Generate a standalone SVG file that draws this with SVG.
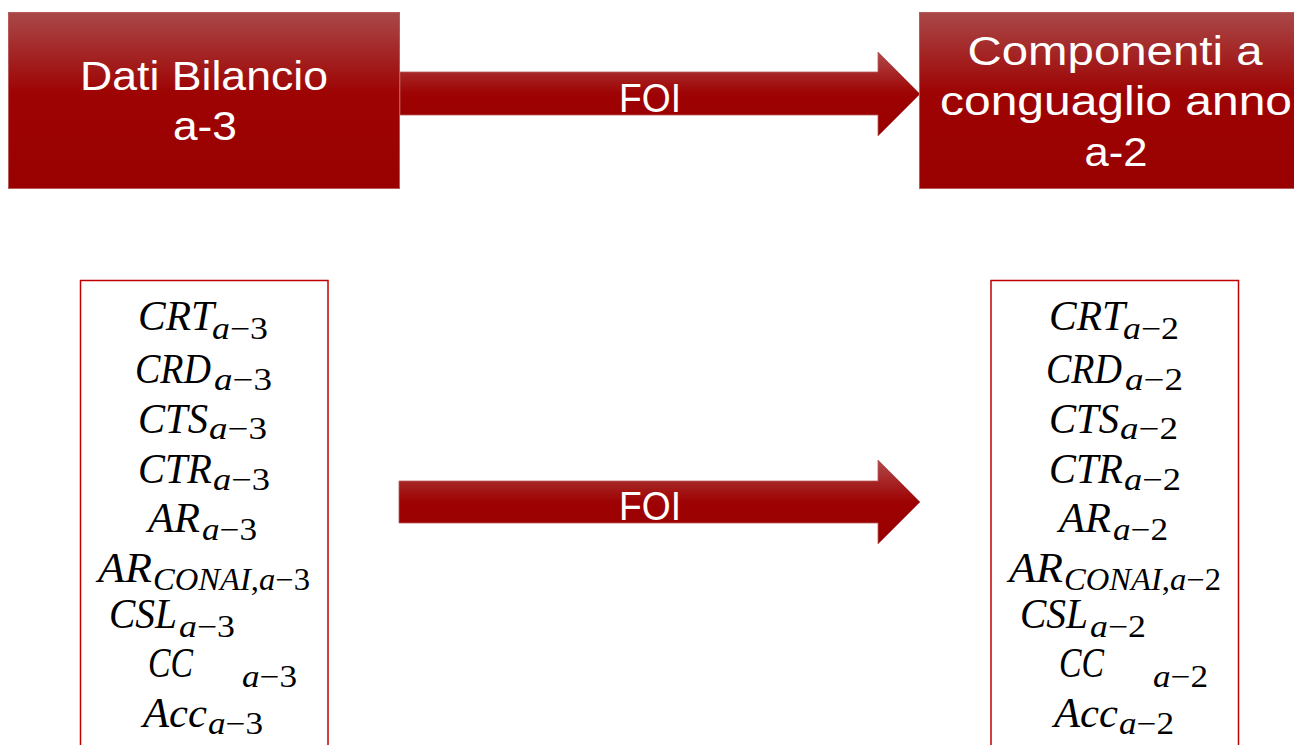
<svg xmlns="http://www.w3.org/2000/svg" width="1294" height="745" viewBox="0 0 1294 745">
  <defs>
    <linearGradient id="redFill" x1="0" y1="0" x2="0" y2="1">
      <stop offset="0" stop-color="#aa4848"/>
      <stop offset="0.45" stop-color="#9e0404"/>
      <stop offset="1" stop-color="#990000"/>
    </linearGradient>
    <linearGradient id="arrowFill" x1="0" y1="0" x2="0" y2="1">
      <stop offset="0" stop-color="#b04a4a"/>
      <stop offset="0.5" stop-color="#9e0202"/>
      <stop offset="1" stop-color="#990000"/>
    </linearGradient>
    <style>
      .head { fill: url(#redFill); stroke: #b85a5a; stroke-width: 1; }
      .arrow { fill: url(#arrowFill); stroke: #b85a5a; stroke-width: 0.8; }
      .title { font-family: "Liberation Sans", Arial, sans-serif; font-size: 41px; fill: #ffffff; text-anchor: middle; }
      .list { fill: #ffffff; stroke: #c00000; stroke-width: 1.5; }
      .m { font-family: "Liberation Serif", "Times New Roman", serif; font-size: 43px; font-style: italic; fill: #000000; }
      .s { font-family: "Liberation Serif", "Times New Roman", serif; font-size: 31px; fill: #000000; }
      .i { font-style: italic; }
    </style>
  </defs>

  <rect width="1294" height="745" fill="#ffffff"/>

  <!-- connectors -->
  <g id="connectors">
    <g id="foi-top">
      <polygon class="arrow" points="400,72 878,72 878,52 920,94 878,136 878,115 400,115"/>
      <text class="title" x="650" y="112" textLength="62" lengthAdjust="spacingAndGlyphs">FOI</text>
    </g>
    <g id="foi-bottom">
      <polygon class="arrow" points="399,481 878,481 878,460 920,502 878,544 878,523 399,523"/>
      <text class="title" x="650" y="520" textLength="62" lengthAdjust="spacingAndGlyphs">FOI</text>
    </g>
  </g>

  <!-- source header -->
  <g id="dati-bilancio">
    <rect class="head" x="8.5" y="12.5" width="391" height="176"/>
    <text class="title" x="204" y="90" textLength="248" lengthAdjust="spacingAndGlyphs">Dati Bilancio</text>
    <text class="title" x="205" y="140" textLength="64" lengthAdjust="spacingAndGlyphs">a-3</text>
  </g>

  <!-- target header -->
  <g id="componenti-conguaglio">
    <rect class="head" x="919.5" y="12.5" width="390" height="176"/>
    <text class="title" x="1115" y="65" textLength="295" lengthAdjust="spacingAndGlyphs">Componenti a</text>
    <text class="title" x="1116" y="115" textLength="352" lengthAdjust="spacingAndGlyphs">conguaglio anno</text>
    <text class="title" x="1116" y="166" textLength="63" lengthAdjust="spacingAndGlyphs">a-2</text>
  </g>

  <!-- cost items, year a-3 -->
  <g id="voci-a3">
    <rect class="list" x="80.5" y="280.5" width="247.5" height="480"/>
    <text class="m" x="138" y="330" textLength="76" lengthAdjust="spacingAndGlyphs">CRT</text>
    <text class="s" x="212" y="339" textLength="56" lengthAdjust="spacingAndGlyphs"><tspan class="i">a</tspan>−3</text>
    <text class="m" x="135" y="383" textLength="76" lengthAdjust="spacingAndGlyphs">CRD</text>
    <text class="s" x="214" y="390" textLength="58" lengthAdjust="spacingAndGlyphs"><tspan class="i">a</tspan>−3</text>
    <text class="m" x="138" y="433" textLength="70" lengthAdjust="spacingAndGlyphs">CTS</text>
    <text class="s" x="209" y="439" textLength="58" lengthAdjust="spacingAndGlyphs"><tspan class="i">a</tspan>−3</text>
    <text class="m" x="138" y="483" textLength="74" lengthAdjust="spacingAndGlyphs">CTR</text>
    <text class="s" x="213" y="490" textLength="57" lengthAdjust="spacingAndGlyphs"><tspan class="i">a</tspan>−3</text>
    <text class="m" x="148" y="532" textLength="52" lengthAdjust="spacingAndGlyphs">AR</text>
    <text class="s" x="202" y="540" textLength="55" lengthAdjust="spacingAndGlyphs"><tspan class="i">a</tspan>−3</text>
    <text class="m" x="98" y="582" textLength="54" lengthAdjust="spacingAndGlyphs">AR</text>
    <text class="s" x="153" y="590" textLength="157" lengthAdjust="spacingAndGlyphs"><tspan class="i">CONAI</tspan>,<tspan class="i">a</tspan>−3</text>
    <text class="m" x="109" y="628" textLength="68" lengthAdjust="spacingAndGlyphs">CSL</text>
    <text class="s" x="179" y="637" textLength="56" lengthAdjust="spacingAndGlyphs"><tspan class="i">a</tspan>−3</text>
    <text class="m" x="148" y="677" textLength="45" lengthAdjust="spacingAndGlyphs">CC</text>
    <text class="s" x="242" y="687" textLength="55" lengthAdjust="spacingAndGlyphs"><tspan class="i">a</tspan>−3</text>
    <text class="m" x="143" y="727" textLength="64" lengthAdjust="spacingAndGlyphs">Acc</text>
    <text class="s" x="208" y="734" textLength="55" lengthAdjust="spacingAndGlyphs"><tspan class="i">a</tspan>−3</text>
  </g>

  <!-- cost items, year a-2 -->
  <g id="voci-a2">
    <rect class="list" x="991" y="280.5" width="247.5" height="480"/>
    <text class="m" x="1049" y="330" textLength="76" lengthAdjust="spacingAndGlyphs">CRT</text>
    <text class="s" x="1123" y="339" textLength="56" lengthAdjust="spacingAndGlyphs"><tspan class="i">a</tspan>−2</text>
    <text class="m" x="1046" y="383" textLength="76" lengthAdjust="spacingAndGlyphs">CRD</text>
    <text class="s" x="1125" y="390" textLength="58" lengthAdjust="spacingAndGlyphs"><tspan class="i">a</tspan>−2</text>
    <text class="m" x="1049" y="433" textLength="70" lengthAdjust="spacingAndGlyphs">CTS</text>
    <text class="s" x="1120" y="439" textLength="58" lengthAdjust="spacingAndGlyphs"><tspan class="i">a</tspan>−2</text>
    <text class="m" x="1049" y="483" textLength="74" lengthAdjust="spacingAndGlyphs">CTR</text>
    <text class="s" x="1124" y="490" textLength="57" lengthAdjust="spacingAndGlyphs"><tspan class="i">a</tspan>−2</text>
    <text class="m" x="1059" y="532" textLength="52" lengthAdjust="spacingAndGlyphs">AR</text>
    <text class="s" x="1113" y="540" textLength="55" lengthAdjust="spacingAndGlyphs"><tspan class="i">a</tspan>−2</text>
    <text class="m" x="1009" y="582" textLength="54" lengthAdjust="spacingAndGlyphs">AR</text>
    <text class="s" x="1064" y="590" textLength="157" lengthAdjust="spacingAndGlyphs"><tspan class="i">CONAI</tspan>,<tspan class="i">a</tspan>−2</text>
    <text class="m" x="1020" y="628" textLength="68" lengthAdjust="spacingAndGlyphs">CSL</text>
    <text class="s" x="1090" y="637" textLength="56" lengthAdjust="spacingAndGlyphs"><tspan class="i">a</tspan>−2</text>
    <text class="m" x="1059" y="677" textLength="45" lengthAdjust="spacingAndGlyphs">CC</text>
    <text class="s" x="1153" y="687" textLength="55" lengthAdjust="spacingAndGlyphs"><tspan class="i">a</tspan>−2</text>
    <text class="m" x="1054" y="727" textLength="64" lengthAdjust="spacingAndGlyphs">Acc</text>
    <text class="s" x="1119" y="734" textLength="55" lengthAdjust="spacingAndGlyphs"><tspan class="i">a</tspan>−2</text>
  </g>
</svg>
